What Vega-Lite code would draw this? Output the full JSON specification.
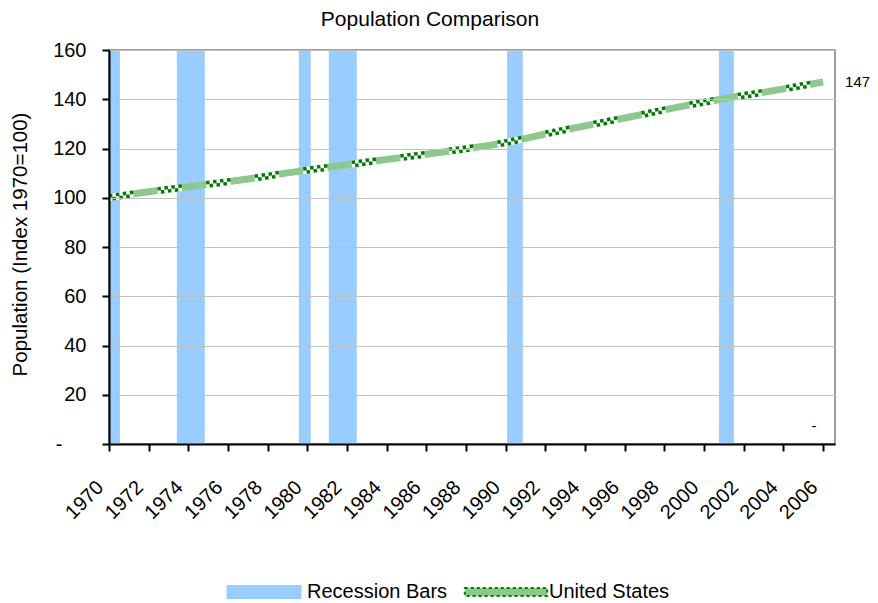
{
  "$schema": "https://vega.github.io/schema/vega-lite/v6.json",
  "width": 726,
  "height": 394,
  "autosize": {"type": "none"},
  "padding": {"left": 109, "top": 50, "right": 43, "bottom": 159},
  "background": "white",
  "config": {
    "font": "Liberation Sans",
    "view": {"stroke": "#7f7f7f", "strokeWidth": 1.5},
    "axis": {
      "labelFont": "Liberation Sans",
      "titleFont": "Liberation Sans",
      "labelColor": "black",
      "titleColor": "black",
      "titleFontWeight": "normal"
    }
  },
  "title": {
    "text": "Population Comparison",
    "font": "Liberation Sans",
    "fontSize": 21,
    "fontWeight": "normal",
    "color": "black",
    "anchor": "middle",
    "dx": -42,
    "dy": 16,
    "offset": 9,
    "baseline": "alphabetic"
  },
  "datasets": {
    "recessions": [
      {"series": "Recession Bars", "start": 1970.0, "end": 1970.55, "top": 160},
      {"series": "Recession Bars", "start": 1973.42, "end": 1974.83, "top": 160},
      {"series": "Recession Bars", "start": 1979.57, "end": 1980.17, "top": 160},
      {"series": "Recession Bars", "start": 1981.08, "end": 1982.49, "top": 160},
      {"series": "Recession Bars", "start": 1990.07, "end": 1990.86, "top": 160},
      {"series": "Recession Bars", "start": 2000.75, "end": 2001.5, "top": 160}
    ],
    "population": [
      {"year": 1970, "index": 100.0},
      {"year": 1971, "index": 101.3},
      {"year": 1972, "index": 102.4},
      {"year": 1973, "index": 103.5},
      {"year": 1974, "index": 104.4},
      {"year": 1975, "index": 105.5},
      {"year": 1976, "index": 106.5},
      {"year": 1977, "index": 107.6},
      {"year": 1978, "index": 108.8},
      {"year": 1979, "index": 110.1},
      {"year": 1980, "index": 111.2},
      {"year": 1981, "index": 112.3},
      {"year": 1982, "index": 113.4},
      {"year": 1983, "index": 114.5},
      {"year": 1984, "index": 115.5},
      {"year": 1985, "index": 116.6},
      {"year": 1986, "index": 117.7},
      {"year": 1987, "index": 118.8},
      {"year": 1988, "index": 119.9},
      {"year": 1989, "index": 121.0},
      {"year": 1990, "index": 122.4},
      {"year": 1991, "index": 124.1},
      {"year": 1992, "index": 125.9},
      {"year": 1993, "index": 127.6},
      {"year": 1994, "index": 129.2},
      {"year": 1995, "index": 130.8},
      {"year": 1996, "index": 132.4},
      {"year": 1997, "index": 134.0},
      {"year": 1998, "index": 135.7},
      {"year": 1999, "index": 137.3},
      {"year": 2000, "index": 138.8},
      {"year": 2001, "index": 140.2},
      {"year": 2002, "index": 141.6},
      {"year": 2003, "index": 142.8},
      {"year": 2004, "index": 144.2},
      {"year": 2005, "index": 145.6},
      {"year": 2006, "index": 147.0}
    ],
    "endLabels": [
      {"series": "Recession Bars", "year": 2006, "value": 0, "label": "-"}
    ]
  },
  "layer": [
    {
      "data": {"name": "recessions"},
      "mark": {"type": "rect"},
      "encoding": {
        "x": {
          "field": "start",
          "type": "quantitative",
          "scale": {"domain": [1970, 2006.6], "nice": false, "zero": false},
          "axis": {
            "title": null,
            "values": [1970, 1972, 1974, 1976, 1978, 1980, 1982, 1984, 1986, 1988, 1990, 1992, 1994, 1996, 1998, 2000, 2002, 2004, 2006],
            "format": "d",
            "grid": false,
            "domainColor": "black",
            "domainWidth": 2,
            "tickColor": "black",
            "tickWidth": 2,
            "tickSize": 7,
            "labelAngle": -45,
            "labelAlign": "right",
            "labelBaseline": "middle",
            "labelFontSize": 20,
            "labelPadding": 33,
            "labelOffset": -9,
            "labelOverlap": false,
            "labelFlush": false,
            "zindex": 2
          }
        },
        "x2": {"field": "end"},
        "y": {
          "field": "top",
          "type": "quantitative",
          "scale": {"domain": [0, 160], "nice": false},
          "axis": {
            "title": "Population (Index 1970=100)",
            "titleFontSize": 20.5,
            "titleAngle": -90,
            "titleX": -89,
            "titleY": 194,
            "titleAlign": "center",
            "titleBaseline": "middle",
            "values": [0, 20, 40, 60, 80, 100, 120, 140, 160],
            "labelExpr": "datum.value == 0 ? '-' : datum.label",
            "labelFontSize": 20,
            "labelPadding": {"condition": {"test": "datum.value == 0", "value": 40}, "value": 16},
            "labelBaseline": "middle",
            "domainColor": "black",
            "domainWidth": 2,
            "tickColor": "black",
            "tickWidth": 2,
            "tickSize": 7,
            "grid": true,
            "gridColor": "#c0c0c0",
            "gridWidth": 1,
            "zindex": 2
          }
        },
        "y2": {"datum": 0},
        "color": {
          "field": "series",
          "type": "nominal",
          "scale": {"domain": ["Recession Bars", "United States"], "range": ["#99ccff", "#8dc98d"]},
          "legend": {
            "title": null,
            "orient": "none",
            "direction": "horizontal",
            "legendX": 145,
            "legendY": 532,
            "padding": 0,
            "labelFont": "Liberation Sans",
            "labelFontSize": 20,
            "labelColor": "black",
            "labelOffset": 33,
            "columnPadding": 12,
            "symbolSize": 400,
            "symbolType": "M-3.75,-0.7H3.75V0.7H-3.75Z",
            "symbolStrokeWidth": 0,
            "symbolOpacity": 1,
            "encode": {
              "symbols": {
                "update": {
                  "shape": {"signal": "datum.value === 'United States' ? 'M-4.12,-0.4H4.12V0.4H-4.12Z' : 'M-3.75,-0.7H3.75V0.7H-3.75Z'"},
                  "fill": {"signal": "datum.value === 'United States' ? '#95cc95' : '#99ccff'"},
                  "stroke": {"signal": "datum.value === 'United States' ? '#008000' : '#99ccff'"},
                  "strokeWidth": {"signal": "datum.value === 'United States' ? 2 : 0"},
                  "strokeDash": {"signal": "datum.value === 'United States' ? [3, 3] : [1, 0]"}
                }
              }
            }
          }
        }
      }
    },
    {
      "mark": {"type": "rule", "color": "black", "strokeWidth": 1.5},
      "encoding": {
        "x": {"datum": 2006.6, "type": "quantitative"}
      }
    },
    {
      "data": {"name": "population"},
      "mark": {"type": "line", "color": "#8fc88f", "strokeWidth": 7, "strokeCap": "butt", "strokeJoin": "round"},
      "encoding": {
        "x": {"field": "year", "type": "quantitative"},
        "y": {"field": "index", "type": "quantitative"}
      }
    },
    {
      "data": {"name": "population"},
      "mark": {"type": "line", "color": "white", "strokeWidth": 7, "strokeCap": "butt", "strokeDash": [24.5, 24.5]},
      "encoding": {
        "x": {"field": "year", "type": "quantitative"},
        "y": {"field": "index", "type": "quantitative"}
      }
    },
    {
      "data": {"name": "population"},
      "mark": {"type": "line", "color": "#007a00", "strokeWidth": 3.5, "strokeCap": "butt", "strokeDash": [3.5, 3.5, 3.5, 3.5, 3.5, 3.5, 3.5, 24.5], "yOffset": -1.75},
      "encoding": {
        "x": {"field": "year", "type": "quantitative"},
        "y": {"field": "index", "type": "quantitative"}
      }
    },
    {
      "data": {"name": "population"},
      "mark": {"type": "line", "color": "#007a00", "strokeWidth": 3.5, "strokeCap": "butt", "strokeDash": [0, 3.5, 3.5, 3.5, 3.5, 3.5, 3.5, 28], "yOffset": 1.75},
      "encoding": {
        "x": {"field": "year", "type": "quantitative"},
        "y": {"field": "index", "type": "quantitative"}
      }
    },
    {
      "data": {"name": "population"},
      "transform": [{"filter": "datum.year == 2006"}],
      "mark": {"type": "text", "align": "left", "baseline": "middle", "dx": 22, "fontSize": 15, "font": "Liberation Sans", "color": "black"},
      "encoding": {
        "x": {"field": "year", "type": "quantitative"},
        "y": {"field": "index", "type": "quantitative"},
        "text": {"field": "index", "type": "quantitative", "format": ".0f"}
      }
    },
    {
      "data": {"name": "endLabels"},
      "mark": {"type": "text", "align": "center", "baseline": "middle", "dx": -9, "dy": -18, "fontSize": 15, "font": "Liberation Sans", "color": "black"},
      "encoding": {
        "x": {"field": "year", "type": "quantitative"},
        "y": {"field": "value", "type": "quantitative"},
        "text": {"field": "label"}
      }
    }
  ]
}
